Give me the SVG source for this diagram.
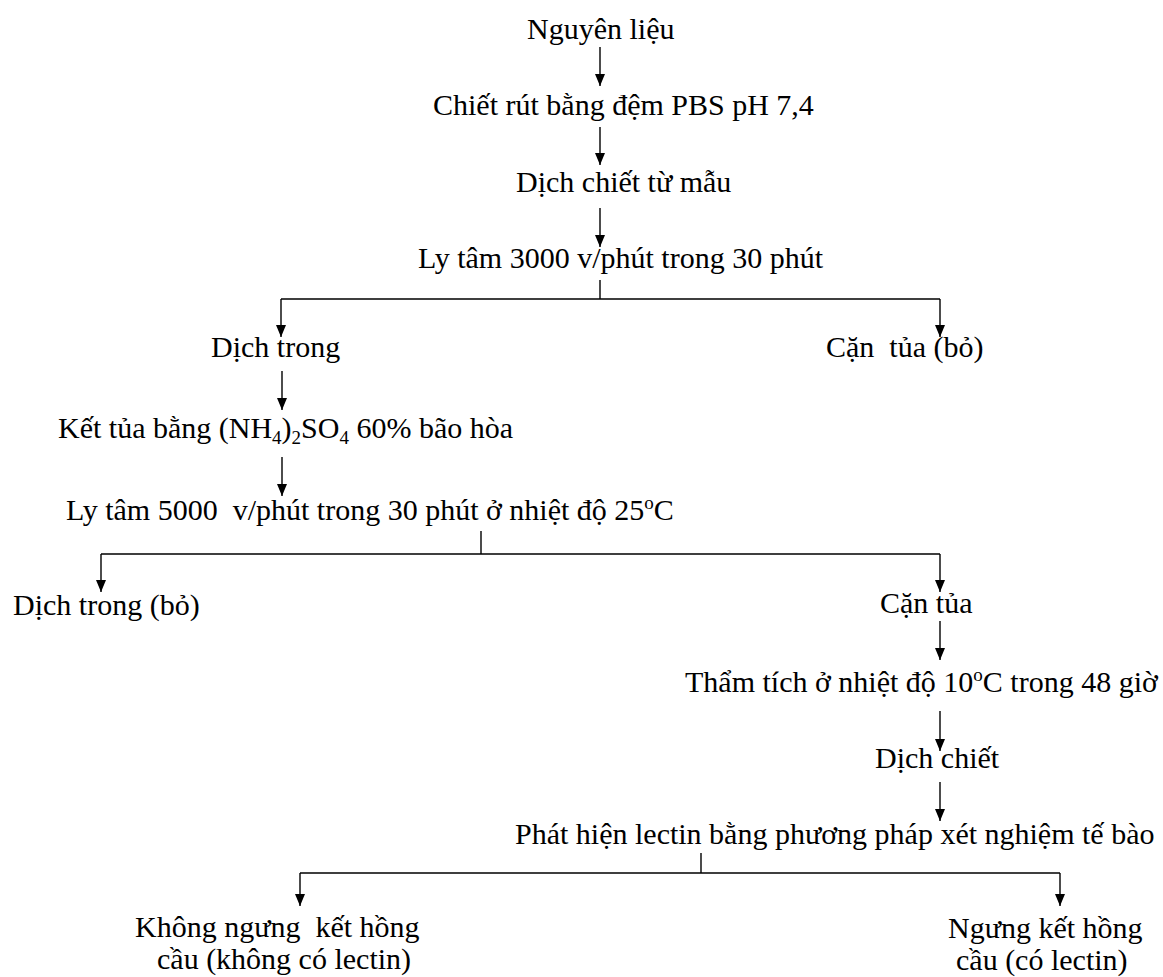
<svg xmlns="http://www.w3.org/2000/svg" width="1163" height="977" viewBox="0 0 1163 977">
<style>
text{font-size:30px;fill:#000;white-space:pre}
.c path{fill:none;stroke:#000;stroke-width:1.4}
.s{font-size:19px}
</style>
<defs>
<marker id="ah" viewBox="0 0 12 10" refX="12" refY="5" markerWidth="12" markerHeight="10" orient="auto" markerUnits="userSpaceOnUse"><path d="M0,0 L12,5 L0,10 z" fill="#000"/></marker>
</defs>
<rect width="1163" height="977" fill="#fff"/>
<g class="c" id="connectors">
<path d="M600,47 V86" marker-end="url(#ah)"/>
<path d="M600,127 V165" marker-end="url(#ah)"/>
<path d="M600,208 V247" marker-end="url(#ah)"/>
<path d="M600,280 V299 M281,299 H940"/>
<path d="M281,299 V337" marker-end="url(#ah)"/>
<path d="M940,299 V337" marker-end="url(#ah)"/>
<path d="M282,371 V410" marker-end="url(#ah)"/>
<path d="M282,457 V496" marker-end="url(#ah)"/>
<path d="M481,531 V554 M101,554 H940"/>
<path d="M101,554 V592" marker-end="url(#ah)"/>
<path d="M940,554 V592" marker-end="url(#ah)"/>
<path d="M940,621 V660" marker-end="url(#ah)"/>
<path d="M940,711 V751" marker-end="url(#ah)"/>
<path d="M940,782 V821" marker-end="url(#ah)"/>
<path d="M701,853 V873 M300,873 H1060"/>
<path d="M300,873 V906" marker-end="url(#ah)"/>
<path d="M1060,873 V906" marker-end="url(#ah)"/>
</g>
<g font-family="Liberation Serif, Times New Roman, serif">
<g id="n1"><text x="527" y="39">Nguyên liệu</text></g>
<g id="n2"><text x="433" y="115">Chiết rút bằng đệm PBS pH 7,4</text></g>
<g id="n3"><text x="516" y="192">Dịch chiết từ mẫu</text></g>
<g id="n4"><text x="418" y="268">Ly tâm 3000 v/phút trong 30 phút</text></g>
<g id="n5"><text x="211" y="357">Dịch trong</text></g>
<g id="n6"><text x="826" y="357">Cặn  tủa (bỏ)</text></g>
<g id="n7"><text x="58" y="438">Kết tủa bằng (NH<tspan class="s" dy="6">4</tspan><tspan dy="-6">)</tspan><tspan class="s" dy="6">2</tspan><tspan dy="-6">SO</tspan><tspan class="s" dy="6">4</tspan><tspan dy="-6"> 60% bão hòa</tspan></text></g>
<g id="n8"><text x="66" y="520">Ly tâm 5000  v/phút trong 30 phút ở nhiệt độ 25<tspan class="s" dy="-11">o</tspan><tspan dy="11">C</tspan></text></g>
<g id="n9"><text x="13" y="615">Dịch trong (bỏ)</text></g>
<g id="n10"><text x="880" y="613">Cặn tủa</text></g>
<g id="n11"><text x="685" y="692">Thẩm tích ở nhiệt độ 10<tspan class="s" dy="-11">o</tspan><tspan dy="11">C trong 48 giờ</tspan></text></g>
<g id="n12"><text x="875" y="768">Dịch chiết</text></g>
<g id="n13"><text x="515" y="844">Phát hiện lectin bằng phương pháp xét nghiệm tế bào</text></g>
<g id="n14"><text x="135" y="937">Không ngưng  kết hồng</text><text x="157" y="969">cầu (không có lectin)</text></g>
<g id="n15"><text x="948" y="938">Ngưng kết hồng</text><text x="956" y="970">cầu (có lectin)</text></g>
</g>
</svg>
